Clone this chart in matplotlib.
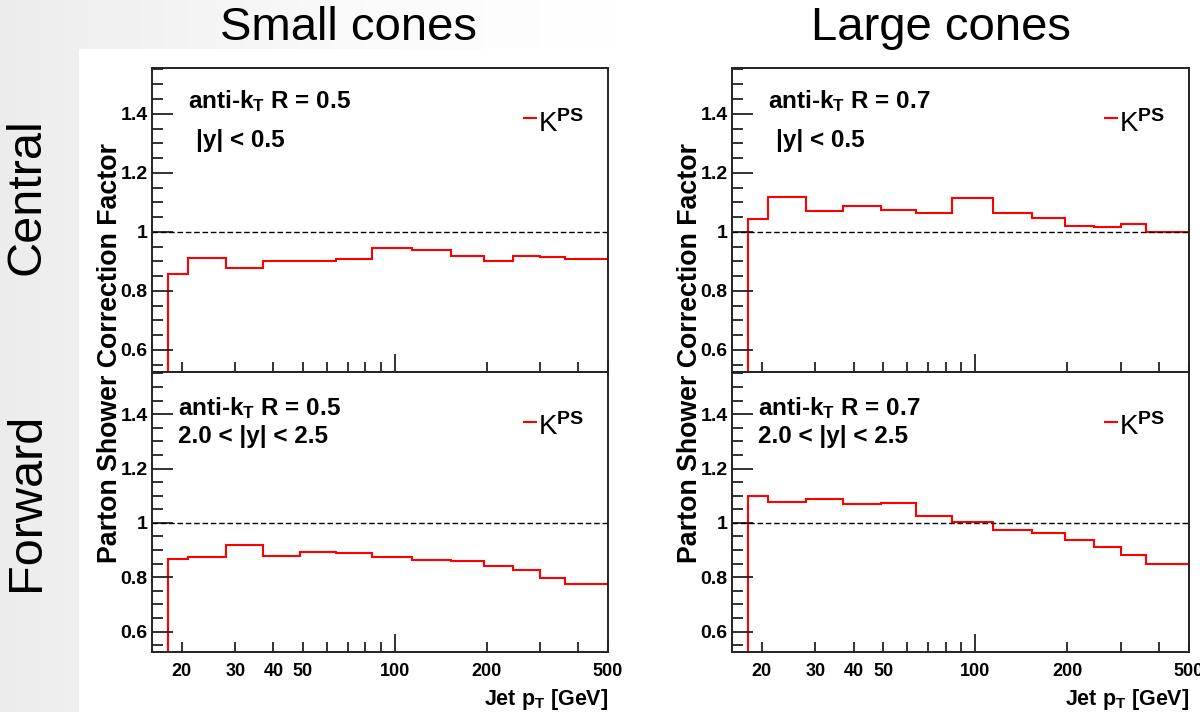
import numpy as np
import matplotlib
matplotlib.use("Agg")
import matplotlib.pyplot as plt
from matplotlib.patches import Rectangle
from matplotlib.ticker import FixedLocator, MultipleLocator, FuncFormatter

plt.rcParams["font.family"] = ["Liberation Sans", "DejaVu Sans"]
plt.rcParams["mathtext.fontset"] = "custom"
plt.rcParams["mathtext.rm"] = "Liberation Sans:bold"
plt.rcParams["mathtext.it"] = "Liberation Sans:bold"
plt.rcParams["mathtext.bf"] = "Liberation Sans:bold"

# jet pT bin edges [GeV]
edges = [18, 21, 28, 37, 49, 64, 84, 114, 153, 196, 245, 300, 362, 507]

# parton shower correction factors per bin
kps_central_r05 = [0.856, 0.910, 0.879, 0.901, 0.901, 0.907, 0.945,
                   0.937, 0.918, 0.901, 0.918, 0.913, 0.909]
kps_forward_r05 = [0.868, 0.873, 0.917, 0.878, 0.893, 0.888, 0.873,
                   0.863, 0.858, 0.843, 0.828, 0.799, 0.774]
kps_central_r07 = [1.043, 1.119, 1.070, 1.088, 1.074, 1.065, 1.113,
                   1.065, 1.047, 1.020, 1.016, 1.025, 1.000]
kps_forward_r07 = [1.098, 1.078, 1.088, 1.068, 1.073, 1.027, 1.004,
                   0.974, 0.962, 0.937, 0.911, 0.883, 0.848]

col_titles = ["Small cones", "Large cones"]
row_titles = ["Central", "Forward"]
cone_labels = ["anti-k$_{\\rm T}$ R = 0.5", "anti-k$_{\\rm T}$ R = 0.7"]
rap_labels = ["|y| < 0.5", "2.0 < |y| < 2.5"]
xtick_labels = [20, 30, 40, 50, 100, 200, 500]

W, H = 1200, 712
fig = plt.figure(figsize=(W / 100, H / 100), dpi=100)

# grey slide background fading to white, white panel behind the plots
bg = fig.add_axes([0, 0, 1, 1], zorder=-10)
strip = 4
for px in range(0, 720, strip):
    f = min(px / 720.0, 1.0)
    g = 0.925 + 0.075 * np.sin(0.5 * np.pi * f)
    bg.add_patch(Rectangle((px / W, 0), (strip + 1) / W, 1,
                           color=(g, g, g), lw=0))
bg.add_patch(Rectangle((79 / W, 0), 1, 1 - 49 / H, color="white", lw=0))
bg.set_xlim(0, 1)
bg.set_ylim(0, 1)
bg.axis("off")


def px_axes(x0, x1, y0, y1):
    return fig.add_axes([x0 / W, 1 - y1 / H, (x1 - x0) / W, (y1 - y0) / H])


def style_axes(ax, show_xlabels):
    ax.set_xscale("log")
    ax.set_xlim(16, 500)
    ax.set_ylim(0.525, 1.555)
    for s in ax.spines.values():
        s.set_linewidth(1.4)
        s.set_color("#222222")
    ax.yaxis.set_major_locator(MultipleLocator(0.2))
    ax.yaxis.set_minor_locator(MultipleLocator(0.05))
    ax.yaxis.set_major_formatter(FuncFormatter(lambda v, p: "%g" % round(v, 2)))
    ax.xaxis.set_major_locator(FixedLocator([100]))
    ax.xaxis.set_minor_locator(FixedLocator([20, 30, 40, 50, 60, 70, 80, 90,
                                             200, 300, 400, 500]))
    lab = lambda v, p: "%d" % v if int(round(v)) in xtick_labels else ""
    ax.xaxis.set_major_formatter(FuncFormatter(lab))
    ax.xaxis.set_minor_formatter(FuncFormatter(lab))
    ax.tick_params(axis="y", which="major", direction="in", length=15,
                   width=1.3, color="#222222", pad=3, labelsize=14)
    ax.tick_params(axis="y", which="minor", direction="in", length=8,
                   width=1.3, color="#222222")
    ax.tick_params(axis="x", which="major", direction="in", length=13,
                   width=1.3, color="#222222", pad=8, labelsize=13)
    ax.tick_params(axis="x", which="minor", direction="in", length=7,
                   width=1.3, color="#222222", pad=8, labelsize=13)
    ax.tick_params(axis="both", which="both", right=False, top=False,
                   labelbottom=show_xlabels)
    for t in ax.get_yticklabels() + ax.get_xticklabels(which="both"):
        t.set_fontweight("bold")


def draw_panel(ax, vals, cone, rap, upper):
    ax.stairs(vals, edges, baseline=0, color="red", lw=1.5)
    ax.axhline(1.0, color="black", lw=1.0, ls=(0, (4, 2)))
    if upper:
        ax.text(0.078, 0.868, cone, transform=ax.transAxes, fontsize=17.5,
                fontweight="bold", va="baseline")
        ax.text(0.096, 0.740, rap, transform=ax.transAxes, fontsize=17.5,
                fontweight="bold", va="baseline")
        ly, ky = 0.836, 0.789
    else:
        ax.text(0.057, 0.846, cone, transform=ax.transAxes, fontsize=17.5,
                fontweight="bold", va="baseline")
        ax.text(0.057, 0.746, rap, transform=ax.transAxes, fontsize=17.5,
                fontweight="bold", va="baseline")
        ly, ky = 0.82, 0.775
    ax.plot([0.816, 0.843], [ly, ly], color="red", lw=1.5,
            transform=ax.transAxes)
    ax.text(0.846, ky, "K$^{\\rm PS}$", transform=ax.transAxes, fontsize=20,
            va="baseline")


cols = [(152, 608), (732, 1189)]
title_x = [348, 941]
data = [[kps_central_r05, kps_forward_r05], [kps_central_r07, kps_forward_r07]]

for c, (x0, x1) in enumerate(cols):
    ax_top = px_axes(x0, x1, 68, 372)
    ax_bot = px_axes(x0, x1, 372, 652)
    style_axes(ax_top, False)
    style_axes(ax_bot, True)
    draw_panel(ax_top, data[c][0], cone_labels[c], rap_labels[0], True)
    draw_panel(ax_bot, data[c][1], cone_labels[c], rap_labels[1], False)

    ax_bot.text(1.0, -0.125, "Jet p$_{\\rm T}$ [GeV]", transform=ax_bot.transAxes,
                ha="right", va="top", fontsize=15.5, fontweight="bold")
    fig.text((x0 - 42) / W, 1 - 353 / H, "Parton Shower Correction Factor",
             rotation=90, ha="center", va="center", fontsize=19.3,
             fontweight="bold")
    fig.text(title_x[c] / W, 1 - 28 / H, col_titles[c], ha="center",
             va="center", fontsize=34)

fig.text(27 / W, 1 - 197 / H, row_titles[0], rotation=90, ha="center",
         va="center", fontsize=35)
fig.text(27 / W, 1 - 502 / H, row_titles[1], rotation=90, ha="center",
         va="center", fontsize=35)

fig.savefig("out.png", dpi=100)
